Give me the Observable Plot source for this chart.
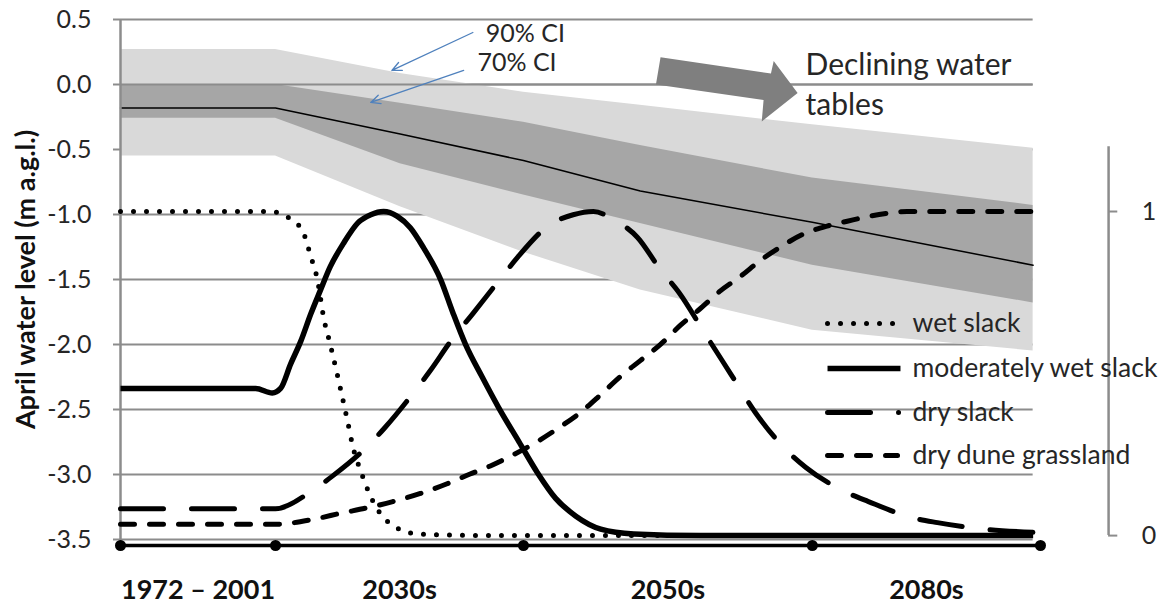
<!DOCTYPE html>
<html><head><meta charset="utf-8">
<script src="https://cdn.jsdelivr.net/npm/d3@7"></script>
<script src="https://cdn.jsdelivr.net/npm/@observablehq/plot@0.6"></script>
<style>html,body{margin:0;padding:0;background:#fff;} #chart svg{display:block;}</style>
</head><body><div id="chart"></div>
<script>
// ---- x: relative time position (0 = start of 1972–2001 baseline, 10 = end of 2080s)
const periodLabels = ["1972 – 2001", "2030s", "2050s", "2080s"];
const periodBounds = [0, 1.685, 4.38, 7.52, 10];

// ---- left axis: April water level (m a.g.l.)
const yTicks = [-3.5, -3.0, -2.5, -2.0, -1.5, -1.0, -0.5, 0.0, 0.5];

// ---- projected water level: median and confidence intervals
const bandX     = [0, 1.685, 3.04, 4.38, 5.65, 7.52, 9.92];
const ci90Upper = [0.27, 0.27, 0.085, -0.06, -0.16, -0.31, -0.49];
const ci70Upper = [0.0, 0.0, -0.145, -0.29, -0.47, -0.72, -0.93];
const medianLvl = [-0.18, -0.18, -0.38, -0.585, -0.82, -1.06, -1.39];
const ci70Lower = [-0.26, -0.26, -0.61, -0.85, -1.07, -1.39, -1.68];
const ci90Lower = [-0.55, -0.55, -0.94, -1.29, -1.58, -1.89, -2.05];

// ---- right axis: habitat suitability (0–1)
const secTicks = [0, 1];
const secMax = 1.2;
const wetSlackX = [0, 1.63, 1.77, 1.88, 1.98, 2.07, 2.14, 2.21, 2.28, 2.37, 2.47, 2.53, 2.61, 2.72, 2.86, 2.97, 3.12, 3.37, 4.13, 9.92];
const wetSlackP = [1, 1, 0.99, 0.97, 0.94, 0.86, 0.79, 0.67, 0.59, 0.48, 0.35, 0.27, 0.20, 0.12, 0.055, 0.03, 0.01, 0.003, 0, 0];

const modWetX = [0, 1.47, 1.65, 1.74, 1.85, 1.96, 2.07, 2.17, 2.28, 2.42, 2.58, 2.72, 2.86, 3.01, 3.15, 3.29, 3.48, 3.61, 3.75, 3.93, 4.11, 4.33, 4.53, 4.73, 4.95, 5.22, 5.58, 6.30, 9.92];
const modWetP = [0.454, 0.454, 0.44, 0.454, 0.53, 0.60, 0.685, 0.755, 0.83, 0.90, 0.965, 0.99, 1.0, 0.985, 0.95, 0.89, 0.79, 0.69, 0.59, 0.49, 0.395, 0.29, 0.195, 0.115, 0.06, 0.02, 0.005, 0, 0];

const drySlackX = [0, 1.685, 2.09, 2.31, 2.70, 2.88, 3.21, 3.37, 3.59, 3.83, 4.15, 4.32, 4.67, 4.92, 5.14, 5.36, 5.62, 5.87, 6.07, 6.36, 6.63, 6.90, 7.25, 7.45, 7.88, 8.13, 8.61, 8.88, 9.38, 9.92];
const drySlackP = [0.083, 0.083, 0.14, 0.185, 0.28, 0.335, 0.45, 0.51, 0.60, 0.685, 0.80, 0.86, 0.96, 0.99, 1.0, 0.975, 0.92, 0.82, 0.75, 0.62, 0.50, 0.38, 0.26, 0.21, 0.135, 0.105, 0.055, 0.04, 0.02, 0.01];

const grassX = [0, 1.685, 2.09, 2.41, 2.67, 2.96, 3.26, 3.55, 3.80, 4.02, 4.24, 4.53, 4.75, 5.0, 5.22, 5.43, 5.65, 5.87, 6.09, 6.30, 6.52, 6.74, 6.96, 7.17, 7.42, 7.68, 7.90, 8.23, 8.55, 9.92];
const grassP = [0.035, 0.035, 0.05, 0.07, 0.085, 0.105, 0.13, 0.16, 0.19, 0.215, 0.245, 0.29, 0.33, 0.38, 0.435, 0.49, 0.54, 0.59, 0.65, 0.70, 0.755, 0.80, 0.85, 0.89, 0.93, 0.955, 0.97, 0.99, 1.0, 1.0];

const habitatNames = ["wet slack", "moderately wet slack", "dry slack", "dry dune grassland"];

// ---- annotations
const ciLabels = ["90% CI", "70% CI"];
const ciLabelX = [3.97, 3.88];
const ciLabelY = [0.392, 0.162];
const ciArrowFrom = [[3.83, 0.40], [3.73, 0.108]];
const ciArrowTo   = [[2.95, 0.108], [2.72, -0.138]];
const bigArrowX = [5.87, 7.07, 7.10, 7.36, 6.97, 6.99, 5.82];
const bigArrowY = [0.21, 0.085, 0.18, -0.065, -0.285, -0.12, 0.0];
const declineText = ["Declining water", "tables"];
const declineY = [0.146, -0.162];

// ---- helpers (secondary axis alignment on left-axis units)
const secZero = -3.47, secOne = -0.977;
const pToY = p => secZero + p * (secOne - secZero);
const rows = (xs, ys) => xs.map((x, i) => ({x, y: ys[i]}));

const bands = bandX.map((x, i) => ({x, lo90: ci90Lower[i], hi90: ci90Upper[i], lo70: ci70Lower[i], hi70: ci70Upper[i], med: medianLvl[i]}));
const wet = rows(wetSlackX, wetSlackP.map(pToY));
const mod = rows(modWetX, modWetP.map(pToY));
const dry = rows(drySlackX, drySlackP.map(pToY));
const grass = rows(grassX, grassP.map(pToY));
const mids = periodLabels.map((t, i) => ({x: (periodBounds[i] + periodBounds[i + 1]) / 2, t}));
const gridEnd = bandX[bandX.length - 1];

const styles = [
  {stroke: "black", strokeWidth: 5, strokeDasharray: "0 13", strokeLinecap: "round"},
  {stroke: "black", strokeWidth: 5.5, strokeLinecap: "butt"},
  {stroke: "black", strokeWidth: 5, strokeDasharray: "43 28", strokeLinecap: "round"},
  {stroke: "black", strokeWidth: 5, strokeDasharray: "14 15", strokeLinecap: "round"}
];
const legendX0 = 7.685, legendX1 = [8.446, 8.478, 8.457, 8.446], legendTextX = 8.609;
const legendY = [-1.838, -2.185, -2.523, -2.854];

const txt = "#262626";
const secAxisX = 10.74;

const marks = [
  Plot.ruleY(yTicks, {x1: 0, x2: gridEnd, stroke: "#8c8c8c", strokeWidth: 2}),
  Plot.areaY(bands, {x: "x", y1: "lo90", y2: "hi90", fill: "#d9d9d9"}),
  Plot.areaY(bands, {x: "x", y1: "lo70", y2: "hi70", fill: "#a6a6a6"}),
  Plot.ruleY([0], {x1: 0, x2: gridEnd, stroke: "#8c8c8c", strokeWidth: 2}),
  Plot.line(bands, {x: "x", y: "med", stroke: "black", strokeWidth: 1.5}),
  Plot.ruleX([0], {y1: -3.55, y2: 0.5, stroke: "#8c8c8c", strokeWidth: 2.5}),
  Plot.axisY(yTicks, {anchor: "left", tickFormat: d => d.toFixed(1), tickSize: 7, tickPadding: 22, stroke: "#8c8c8c", strokeWidth: 2, fill: txt, fontSize: 25, label: null}),
  Plot.text(["April water level (m a.g.l.)"], {frameAnchor: "left", textAnchor: "middle", dx: -94, rotate: -90, fontWeight: "bold", fontSize: 27, fill: "#111"}),
  // habitat curves
  Plot.line(grass, {x: "x", y: "y", curve: "monotone-x", ...styles[3]}),
  Plot.line(dry, {x: "x", y: "y", curve: "monotone-x", ...styles[2]}),
  Plot.line(mod, {x: "x", y: "y", curve: "monotone-x", ...styles[1]}),
  Plot.line(wet, {x: "x", y: "y", curve: "monotone-x", ...styles[0]}),
  // x baseline with period markers
  Plot.ruleY([-3.5], {x1: 0, x2: 10, stroke: "black", strokeWidth: 3.5, dy: 6}),
  Plot.dot(periodBounds.map(x => ({x, y: -3.5})), {x: "x", y: "y", r: 5.5, fill: "black", dy: 6}),
  Plot.text(mids, {x: "x", y: () => -3.5, text: "t", dy: 51, fontWeight: "bold", fontSize: 27, fill: "#111"}),
  // secondary axis
  Plot.ruleX([secAxisX], {y1: pToY(0), y2: pToY(secMax), stroke: "#8c8c8c", strokeWidth: 2.5}),
  Plot.ruleY(secTicks.map(pToY), {x1: secAxisX, x2: secAxisX + 0.1, stroke: "#8c8c8c", strokeWidth: 2}),
  Plot.text(secTicks.map(p => ({p, y: pToY(p)})), {x: () => secAxisX + 0.44, y: "y", text: d => String(d.p), fontSize: 25, fill: txt}),
  // CI annotations
  Plot.arrow(ciArrowFrom.map((a, i) => ({x1: a[0], y1: a[1], x2: ciArrowTo[i][0], y2: ciArrowTo[i][1]})), {x1: "x1", y1: "y1", x2: "x2", y2: "y2", stroke: "#4f81bd", strokeWidth: 1.3, headLength: 12, headAngle: 50}),
  Plot.text(ciLabels.map((t, i) => ({t, x: ciLabelX[i], y: ciLabelY[i]})), {x: "x", y: "y", text: "t", textAnchor: "start", fontSize: 25, fill: txt}),
  // declining arrow
  Plot.line(rows(bigArrowX, bigArrowY), {x: "x", y: "y", fill: "#7f7f7f", stroke: "none", curve: "linear-closed"}),
  Plot.text(declineText.map((t, i) => ({t, y: declineY[i]})), {x: () => 7.446, y: "y", text: "t", textAnchor: "start", fontSize: 30, fill: txt}),
  // legend
  ...habitatNames.map((name, i) => Plot.line([{x: legendX0, y: legendY[i]}, {x: legendX1[i], y: legendY[i]}], {x: "x", y: "y", ...styles[i]})),
  Plot.text(habitatNames.map((t, i) => ({t, y: legendY[i]})), {x: () => legendTextX, y: "y", text: "t", textAnchor: "start", fontSize: 26.5, fill: txt})
];

const chart = Plot.plot({
  width: 1168, height: 606,
  marginLeft: 120, marginRight: 128, marginTop: 19, marginBottom: 67,
  x: {domain: [0, 10], axis: null},
  y: {domain: [-3.5, 0.5], axis: null},
  style: {fontFamily: "Lato, 'Liberation Sans', sans-serif", background: "white", overflow: "visible"},
  marks
});
document.getElementById("chart").append(chart);
</script></body></html>
